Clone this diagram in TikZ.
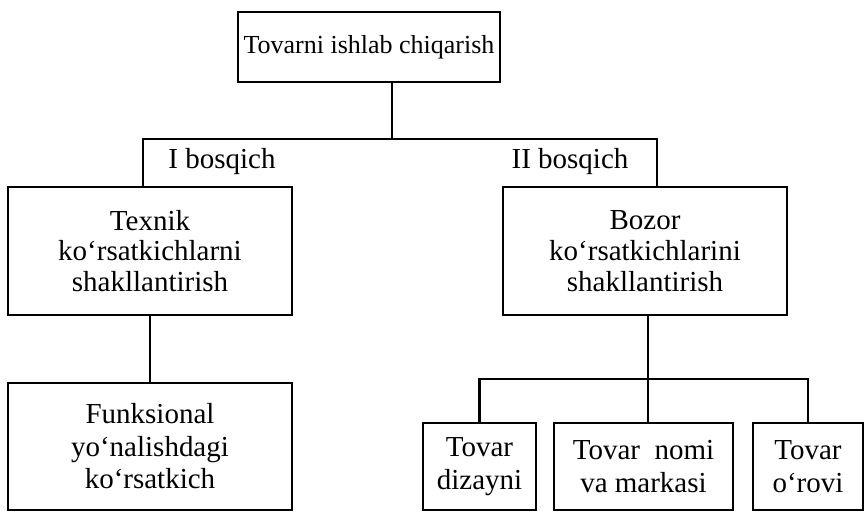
\documentclass[tikz,border=0pt]{standalone}
\usepackage{fontspec}
\setmainfont{Liberation Serif}
\usetikzlibrary{positioning}

\begin{document}
\begin{tikzpicture}[x=0.02cm, y=-0.02cm,
    line width=1.3pt,
    blok/.style={draw, line width=1.3pt, align=center, inner sep=2pt,
        font=\fontsize{16.5}{17.5}\selectfont},
    yozuv/.style={font=\fontsize{16.5}{17.5}\selectfont, inner sep=1pt}]
    % ==================== CHEGARA ====================
    \useasboundingbox (0,0) rectangle (865,512);

    % ==================== BLOKLAR ====================
    \node[blok, font=\fontsize{14.8}{17}\selectfont, minimum width=5.24cm, minimum height=1.4cm] (tovar) at (369,47) {Tovarni ishlab chiqarish};
    \node[blok, minimum width=5.68cm, minimum height=2.56cm] (texnik) at (150,251) {Texnik\\ko‘rsatkichlarni\\shakllantirish};
    \node[blok, minimum width=5.68cm, minimum height=2.56cm] (bozor) at (645,251) {Bozor\\ko‘rsatkichlarini\\shakllantirish};
    \node[blok, font=\fontsize{16.5}{18.5}\selectfont, minimum width=5.68cm, minimum height=2.54cm] (funk) at (150,446.5) {Funksional\\yo‘nalishdagi\\ko‘rsatkich};
    \node[blok, font=\fontsize{16.5}{18.5}\selectfont, minimum width=2.26cm, minimum height=1.74cm] (dizayn) at (479.5,466.5) {Tovar\\dizayni};
    \node[blok, font=\fontsize{16.5}{18.5}\selectfont, minimum width=3.58cm, minimum height=1.74cm] (nomi) at (643.5,466.5) {Tovar\ \ nomi\\va markasi};
    \node[blok, font=\fontsize{16.5}{18.5}\selectfont, minimum width=2.2cm, minimum height=1.74cm] (orovi) at (808,466.5) {Tovar\\o‘rovi};

    % Bosqich yozuvlari
    \node[yozuv] (bosqichI) at (222,162) {I bosqich};
    \node[yozuv] (bosqichII) at (570,162) {II bosqich};

    % ==================== TARMOQLANISH ====================
    \coordinate (ayriq) at (392,139);
    \coordinate (chap) at (143,139);
    \coordinate (ong) at (657,139);
    \coordinate (vilka) at (648,379);

    \draw (ayriq |- tovar.south) -- (ayriq);
    \draw (chap |- texnik.north) -- (chap) -- (ong) -- (ong |- bozor.north);
    \draw (texnik.south) -- (funk.north);

    % Bozor ostidagi uchta blok
    \draw (vilka |- bozor.south) -- (vilka);
    \draw (dizayn.north) |- (vilka) -| (orovi.north);
    \draw (vilka) -- (vilka |- nomi.north);
\end{tikzpicture}
\end{document}
